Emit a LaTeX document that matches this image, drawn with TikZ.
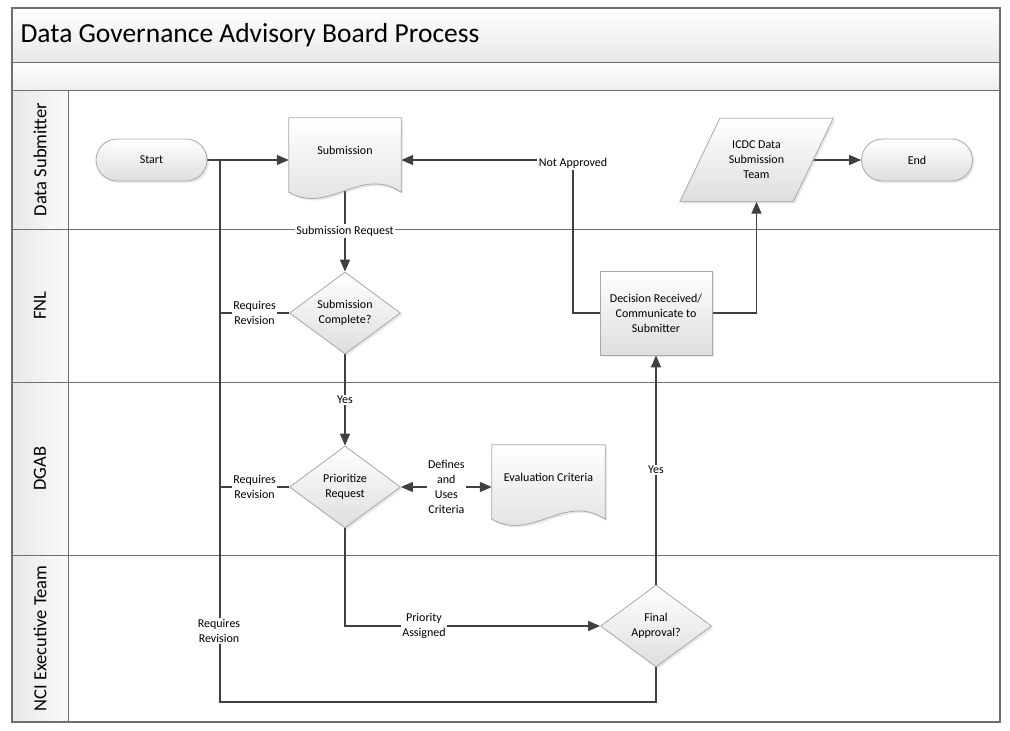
\documentclass[tikz,border=0pt]{standalone}
\usepackage{fontspec}
\setmainfont{Carlito}
\usetikzlibrary{arrows.meta,shapes.geometric,shadows,calc}
\pgfdeclarelayer{back}
\pgfdeclarelayer{mid}
\pgfsetlayers{back,mid,main}
\definecolor{ln}{HTML}{404040}
\definecolor{bd}{HTML}{A8A8A8}
\definecolor{lanec}{HTML}{6E6E6E}
\begin{document}
\begin{tikzpicture}[x=1pt,y=-1pt,
 font=\fontsize{12}{15}\selectfont,
 shp/.style={draw=bd, line width=0.8pt, top color=white, bottom color=black!13,
   drop shadow={opacity=0.18,shadow xshift=2pt,shadow yshift=-2pt}},
 txt/.style={align=center, inner sep=2pt},
 term/.style={shp, txt, rounded corners=21pt, minimum width=111pt, minimum height=42pt},
 decn/.style={shp, txt, diamond, minimum width=111pt, minimum height=82pt, aspect=1.35, inner sep=0pt},
 proc/.style={shp, txt, minimum width=112pt, minimum height=84pt},
 flow/.style={draw=ln, line width=1.5pt, -{Triangle[length=12pt,width=10pt]}},
 both/.style={draw=ln, line width=1.5pt, {Triangle[length=12pt,width=10pt]}-{Triangle[length=12pt,width=10pt]}},
 conn/.style={draw=ln, line width=1.5pt},
 lbl/.style={fill=white, inner sep=1.5pt, align=center},
 lanetxt/.style={rotate=90, font=\fontsize{18.5}{20}\selectfont},
 laneline/.style={draw=lanec, line width=1pt},
]
\useasboundingbox (0,0) rectangle (1010,731);

% ---------- pool / lanes ----------
\begin{pgfonlayer}{back}
\shade[top color=white, bottom color=black!9] (12,8) rectangle (1000,62);
\shade[top color=white, bottom color=black!7] (12,62) rectangle (1000,90);
\shade[left color=black!9, right color=black!2] (12,90) rectangle (68,722);
\draw[laneline] (12,62) -- (1000,62);
\draw[laneline] (12,90) -- (1000,90);
\draw[laneline] (12,229) -- (1000,229);
\draw[laneline] (12,382) -- (1000,382);
\draw[laneline] (12,555) -- (1000,555);
\draw[laneline] (68,90) -- (68,722);
\draw[draw=lanec, line width=1.2pt] (12,8) rectangle (1000,722);
\end{pgfonlayer}

\node[anchor=west, font=\fontsize{27.5}{30}\selectfont] (title) at (17,35) {Data Governance Advisory Board Process};

\node[lanetxt] (l1) at (40,159.5) {Data Submitter};
\node[lanetxt] (l2) at (40,305.5) {FNL};
\node[lanetxt] (l3) at (40,468.5) {DGAB};
\node[lanetxt] (l4) at (40,638.5) {NCI Executive Team};

% ---------- shapes ----------
\node[term] (start) at (151.5,160) {Start};
\node[term] (end) at (917,160) {End};

\node[txt, minimum width=112pt, minimum height=64pt] (sub) at (345,150) {Submission};
\begin{pgfonlayer}{mid}
\path[shp] (sub.north west) -- (sub.north east) -- ($(sub.south east)+(0,10)$)
  .. controls ($(sub.south east)+(-41,-17)$) and ($(sub.south west)+(41,33)$) .. ($(sub.south west)+(0,10)$) -- cycle;
\end{pgfonlayer}

\node[txt, minimum width=113pt, minimum height=64pt] (eval) at (548.5,477) {Evaluation Criteria};
\begin{pgfonlayer}{mid}
\path[shp] (eval.north west) -- (eval.north east) -- ($(eval.south east)+(0,10)$)
  .. controls ($(eval.south east)+(-41,-17)$) and ($(eval.south west)+(41,33)$) .. ($(eval.south west)+(0,10)$) -- cycle;
\end{pgfonlayer}

\node[txt, minimum width=113pt, minimum height=83pt] (icdc) at (756.5,160) {ICDC Data\\Submission\\Team};
\begin{pgfonlayer}{mid}
\path[shp] ($(icdc.south west)+(-20,0)$) -- ($(icdc.north west)+(20,0)$) -- ($(icdc.north east)+(20,0)$) -- ($(icdc.south east)+(-20,0)$) -- cycle;
\end{pgfonlayer}

\node[decn] (sc) at (345,313) {Submission\\Complete?};
\node[decn] (prio) at (345,487) {Prioritize\\Request};
\node[decn] (fin) at (656,626) {Final\\Approval?};
\node[proc] (dec) at (656,313) {Decision Received/\\Communicate to\\Submitter};

% ---------- connectors ----------
\coordinate (lb) at (220,702);
\coordinate (na) at (573,160);
\begin{pgfonlayer}{back}
\draw[flow] (start.east) -- (start.east -| sub.west);
\draw[conn] (fin.south) |- (lb) -- (lb |- start.east);
\draw[conn] (sc.west) -- node[lbl] {Requires\\Revision} (sc.west -| lb);
\draw[conn] (prio.west) -- node[lbl] {Requires\\Revision} (prio.west -| lb);
\node[lbl] (rr3) at (219,631) {Requires\\Revision};
\draw[flow] (sub.south) -- (sc.north);
\node[lbl] (sr) at (345,231) {Submission Request};
\draw[flow] (sc.south) -- node[lbl] {Yes} (prio.north);
\draw[flow] (prio.south) |- (fin.west);
\node[lbl] (pa) at (424,626) {Priority\\Assigned};
\draw[both] (prio.east) -- node[lbl] {Defines\\and\\Uses\\Criteria} (prio.east -| eval.west);
\draw[flow] (fin.north) -- node[lbl] {Yes} (dec.south);
\draw[flow] (dec.west) -| (na) -- (na -| sub.east);
\node[lbl] (nat) at (573,163) {Not Approved};
\draw[flow] (dec.east) -| (icdc.south);
\draw[flow] (icdc.east) -- (end.west);
\end{pgfonlayer}
\end{tikzpicture}
\end{document}
